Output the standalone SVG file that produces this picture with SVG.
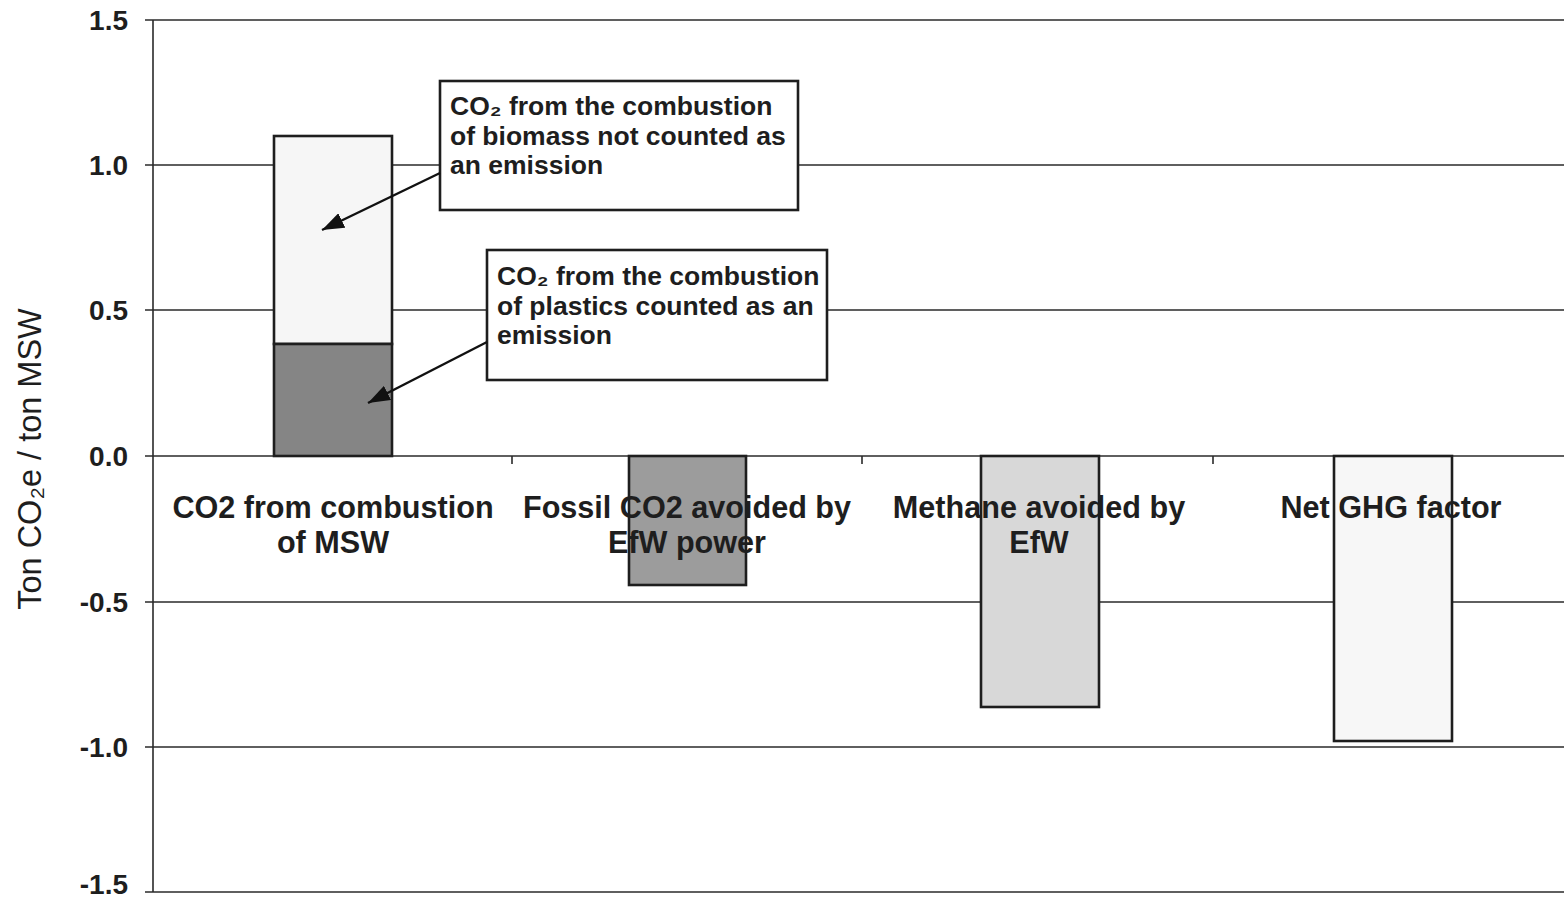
<svg xmlns="http://www.w3.org/2000/svg" width="1564" height="901" viewBox="0 0 1564 901">
<style>
.grid{stroke:#2a2a2a;stroke-width:1.6;fill:none}
.tick{stroke:#2a2a2a;stroke-width:1.6}
.ylab{font-family:"Liberation Sans",Arial,sans-serif;font-size:28px;font-weight:bold;fill:#1e1e1e;text-anchor:end}
.cat{font-family:"Liberation Sans",Arial,sans-serif;font-size:30.6px;font-weight:bold;fill:#1e1e1e;text-anchor:middle}
.ann{font-family:"Liberation Sans",Arial,sans-serif;font-size:26.5px;font-weight:bold;fill:#1e1e1e}
.title{font-family:"Liberation Sans",Arial,sans-serif;font-size:32.5px;fill:#1e1e1e;text-anchor:middle}
.bar{stroke:#1e1e1e;stroke-width:2.6}
.box{fill:#ffffff;stroke:#1e1e1e;stroke-width:2.6}
.conn{stroke:#111;stroke-width:2.4;fill:none}
</style>
<defs>
<marker id="ah" markerUnits="userSpaceOnUse" markerWidth="24" markerHeight="16" refX="22" refY="8" orient="auto">
<path d="M0,0 L22,8 L0,16 Z" fill="#111"/>
</marker>
</defs>
<rect width="1564" height="901" fill="#ffffff"/>
<g id="axes">
<line class="grid" x1="145" y1="20" x2="1564" y2="20"/>
<line class="grid" x1="145" y1="165" x2="1564" y2="165"/>
<line class="grid" x1="145" y1="310" x2="1564" y2="310"/>
<line class="grid" x1="145" y1="456" x2="1564" y2="456"/>
<line class="grid" x1="145" y1="602" x2="1564" y2="602"/>
<line class="grid" x1="145" y1="747" x2="1564" y2="747"/>
<line class="grid" x1="145" y1="892" x2="1564" y2="892"/>
<line class="grid" x1="153" y1="20" x2="153" y2="892"/>
<line class="tick" x1="512" y1="456" x2="512" y2="464"/>
<line class="tick" x1="862" y1="456" x2="862" y2="464"/>
<line class="tick" x1="1213" y1="456" x2="1213" y2="464"/>
<text class="ylab" x="128" y="30">1.5</text>
<text class="ylab" x="128" y="175">1.0</text>
<text class="ylab" x="128" y="320">0.5</text>
<text class="ylab" x="128" y="466">0.0</text>
<text class="ylab" x="128" y="612">-0.5</text>
<text class="ylab" x="128" y="757">-1.0</text>
<text class="ylab" x="128" y="894">-1.5</text>
<text class="title" x="41" y="459" transform="rotate(-90 41 459)">Ton CO₂e / ton MSW</text>
</g>
<g id="bar-co2-msw">
<rect class="bar" x="274" y="136" width="118" height="208" fill="#f6f6f6"/>
<rect class="bar" x="274" y="344" width="118" height="112" fill="#858585"/>
</g>
<g id="bar-fossil">
<rect class="bar" x="629" y="456" width="117" height="129" fill="#9c9c9c"/>
</g>
<g id="bar-methane">
<rect class="bar" x="981" y="456" width="118" height="251" fill="#d8d8d8"/>
</g>
<g id="bar-net">
<rect class="bar" x="1334" y="456" width="118" height="285" fill="#f7f7f7"/>
</g>
<g id="category-labels">
<text class="cat" x="333" y="518">CO2 from combustion</text>
<text class="cat" x="333" y="553">of MSW</text>
<text class="cat" x="687" y="518">Fossil CO2 avoided by</text>
<text class="cat" x="687" y="553">EfW power</text>
<text class="cat" x="1039" y="518">Methane avoided by</text>
<text class="cat" x="1039" y="553">EfW</text>
<text class="cat" x="1391" y="518">Net GHG factor</text>
</g>
<g id="note-biomass">
<rect class="box" x="440" y="81" width="358" height="129"/>
<text class="ann" x="450" y="115">CO₂ from the combustion</text>
<text class="ann" x="450" y="145">of biomass not counted as</text>
<text class="ann" x="450" y="174">an emission</text>
</g>
<g id="note-plastics">
<rect class="box" x="487" y="250" width="340" height="130"/>
<text class="ann" x="497" y="285">CO₂ from the combustion</text>
<text class="ann" x="497" y="315">of plastics counted as an</text>
<text class="ann" x="497" y="344">emission</text>
</g>
<g id="connectors">
<line class="conn" x1="440" y1="173" x2="322" y2="230" marker-end="url(#ah)"/>
<line class="conn" x1="487" y1="342" x2="368" y2="403" marker-end="url(#ah)"/>
</g>
</svg>
